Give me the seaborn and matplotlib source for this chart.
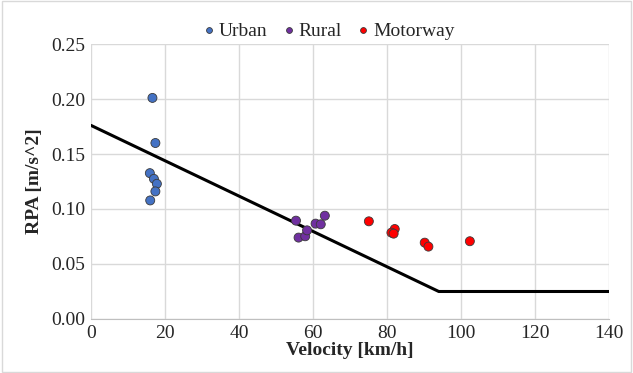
import matplotlib
matplotlib.use("Agg")
import matplotlib.pyplot as plt
import seaborn as sns
import pandas as pd
from matplotlib.patches import Rectangle

urban_v = [16.6, 17.4, 15.9, 17.0, 17.8, 17.4, 16.0]
urban_rpa = [0.201, 0.160, 0.1326, 0.1274, 0.1229, 0.116, 0.1078]
rural_v = [55.4, 56.1, 57.9, 58.4, 60.7, 62.1, 63.2]
rural_rpa = [0.0894, 0.074, 0.0752, 0.0806, 0.0867, 0.0861, 0.0939]
motor_v = [75.1, 82.1, 81.2, 81.8, 90.2, 91.2, 102.4]
motor_rpa = [0.0888, 0.0818, 0.0785, 0.0776, 0.0694, 0.0658, 0.0707]
limit_v = [0, 94, 140]
limit_rpa = [0.176, 0.025, 0.025]
categories = ["Urban", "Rural", "Motorway"]
colors = ["#4472C4", "#7030A0", "#FF0000"]

df = pd.DataFrame({
    "v": urban_v + rural_v + motor_v,
    "rpa": urban_rpa + rural_rpa + motor_rpa,
    "cat": ["Urban"] * len(urban_v) + ["Rural"] * len(rural_v) + ["Motorway"] * len(motor_v),
})
lim = pd.DataFrame({"v": limit_v, "rpa": limit_rpa})

sns.set_style("white")
plt.rcParams["font.family"] = ["Liberation Serif", "DejaVu Serif"]

fig = plt.figure(figsize=(6.33, 3.73), dpi=100)
ax = fig.add_axes([0.1438, 0.1448, 0.962 - 0.1438, 0.882 - 0.1448])

sns.lineplot(data=lim, x="v", y="rpa", ax=ax, color="black", linewidth=2.2, zorder=2, legend=False)
sns.scatterplot(data=df, x="v", y="rpa", hue="cat", hue_order=categories,
                palette=colors, ax=ax, s=42, edgecolor="#3a3a3a", linewidth=0.6, zorder=3)

ax.set_xlim(0, 140)
ax.set_ylim(0, 0.25)
ax.set_xticks(range(0, 141, 20))
ax.set_yticks([0, 0.05, 0.10, 0.15, 0.20, 0.25])
ax.set_yticklabels([f"{t:.2f}" for t in [0, 0.05, 0.10, 0.15, 0.20, 0.25]])
ax.grid(True, color="#D9D9D9", linewidth=1)
ax.set_axisbelow(True)
for s in ["top", "right", "left"]:
    ax.spines[s].set_visible(False)
ax.spines["bottom"].set_color("#BFBFBF")
ax.tick_params(axis="both", labelsize=14, length=0, pad=4)
ax.set_xlabel("Velocity [km/h]", fontsize=14, fontweight="bold", labelpad=0)
ax.set_ylabel("RPA [m/s^2]", fontsize=14, fontweight="bold", labelpad=6)

h, l = ax.get_legend_handles_labels()
ax.legend(h, l, loc="lower center", bbox_to_anchor=(0.456, 0.985), ncol=3, frameon=False,
          fontsize=14, handletextpad=0.0, columnspacing=0.6, markerscale=0.65,
          borderaxespad=0.0, handlelength=1.0)

fig.patches.append(Rectangle((0.003, 0.003), 0.994, 0.994, transform=fig.transFigure,
                             fill=False, edgecolor="#D9D9D9", linewidth=1))
fig.savefig("out.png", dpi=100)
